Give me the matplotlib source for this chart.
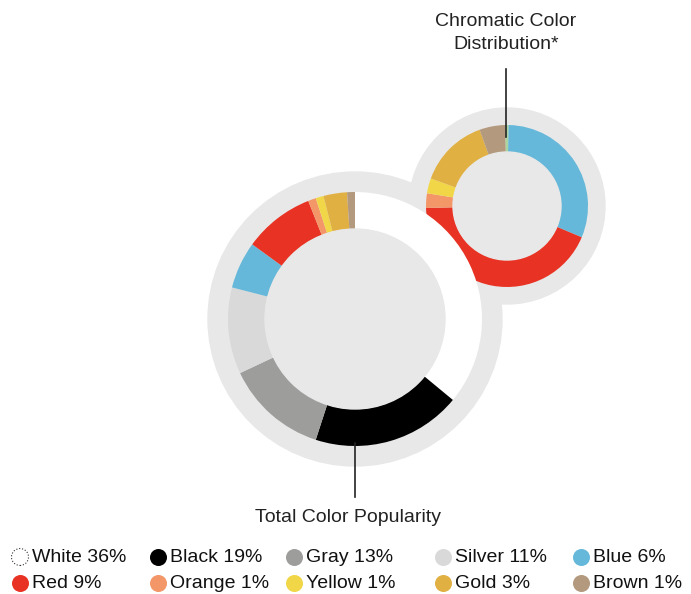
#!/usr/bin/env python
# -*- coding: utf-8 -*-

"""
Car colour popularity: total distribution and chromatic-only distribution.
"""

import matplotlib
matplotlib.use("Agg")
import matplotlib.pyplot as plt
from matplotlib.patches import Circle

# Data.
total_names = ["White", "Black", "Gray", "Silver", "Blue",
               "Red", "Orange", "Yellow", "Gold", "Brown"]
total_values = [36, 19, 13, 11, 6, 9, 1, 1, 3, 1]
total_colors = ["#ffffff", "#000000", "#9d9d9c", "#d9d9d9", "#65b8d9",
                "#e83324", "#f39668", "#f1d748", "#e1b043", "#b39a7e"]

# Chromatic share (percent of chromatic colours).
chroma_names = ["Green", "Blue", "Red", "Orange", "Yellow", "Gold", "Brown"]
chroma_values = [0.7, 31.0, 43.3, 2.9, 3.0, 14.0, 5.1]
chroma_colors = ["#a8d5a0", "#65b8d9", "#e83324", "#f39668", "#f1d748",
                 "#e1b043", "#b39a7e"]

BG = "#e8e8e8"
W, H = 691, 594


def main():
    plt.rcParams["font.family"] = ["Liberation Sans", "DejaVu Sans"]
    fig = plt.figure(figsize=(W / 100, H / 100), dpi=100)
    ax = fig.add_axes([0, 0, 1, 1])

    big_c = (355, H - 319)
    small_c = (507, H - 206)

    # gray backdrops
    ax.add_patch(Circle(big_c, 147, color=BG, zorder=1))
    ax.add_patch(Circle(small_c, 98, color=BG, zorder=1))

    # small ring (drawn first so the big ring overlaps it)
    wedges, _ = ax.pie(chroma_values, colors=chroma_colors, center=small_c,
                       radius=81, startangle=91.4, counterclock=False,
                       wedgeprops=dict(width=27, linewidth=0), frame=True)
    for w in wedges:
        w.set_zorder(2)
    ax.add_patch(Circle(small_c, 54, color=BG, zorder=2))

    wedges, _ = ax.pie(total_values, colors=total_colors, center=big_c,
                       radius=127, startangle=90, counterclock=False,
                       wedgeprops=dict(width=37, linewidth=0), frame=True)
    for w in wedges:
        w.set_zorder(3)
    ax.add_patch(Circle(big_c, 90, color=BG, zorder=3))

    # leader lines and titles
    ax.plot([355, 355], [H - 443, H - 497], color="#222222", lw=1.2, zorder=5)
    ax.text(348, H - 517, "Total Color Popularity", ha="center", va="center",
            fontsize=14, color="#222222")
    ax.plot([506, 506], [H - 69, H - 137], color="#222222", lw=1.2, zorder=5)
    ax.text(506, H - 33, "Chromatic Color\nDistribution*", ha="center",
            va="center", fontsize=14, color="#222222", linespacing=1.45)

    # legend, two rows of five
    col_x = [20, 158, 294, 443, 581]
    row_y = [H - 557, H - 583]
    for i, (name, val, col) in enumerate(zip(total_names, total_values,
                                             total_colors)):
        x = col_x[i % 5]
        y = row_y[i // 5]
        if name == "White":
            ax.scatter([x], [y], s=150, facecolor="white", edgecolor="#333333",
                       linewidth=0.8, linestyle=":", zorder=5)
        else:
            ax.scatter([x], [y], s=150, color=col, linewidth=0, zorder=5)
        ax.text(x + 12, y, "%s %d%%" % (name, val), ha="left", va="center",
                fontsize=14, color="#111111")

    ax.set_xlim(0, W)
    ax.set_ylim(0, H)
    ax.set_aspect("equal")
    ax.axis("off")
    fig.savefig("out.png", dpi=100)


if __name__ == "__main__":
    main()
